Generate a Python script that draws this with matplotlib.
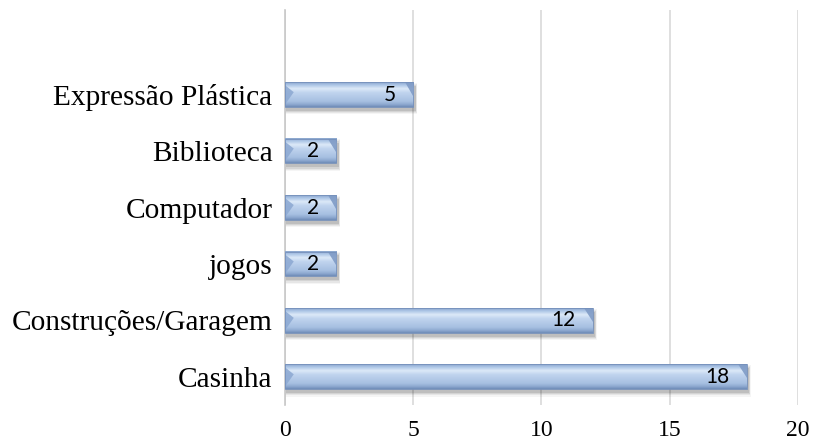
import numpy as np
import matplotlib
matplotlib.use("Agg")
import matplotlib.pyplot as plt
from matplotlib.patches import Polygon, Rectangle
from matplotlib.colors import to_rgb

# Activity categories (bottom to top) and counts
categories = ["Casinha", "Construções/Garagem", "jogos", "Computador",
              "Biblioteca", "Expressão Plástica"]
counts = [18, 12, 2, 2, 2, 5]
x_ticks = [0, 5, 10, 15, 20]

fig = plt.figure(figsize=(8.13, 4.45), dpi=100)
ax = fig.add_axes([0.3506, 0.0899, 0.6309, 0.8876])

bar_h = 0.44
positions = np.arange(len(categories))

# vertical gradient for the bevelled bar body (top -> bottom)
stops = [(0.00, "#8aa5cc"), (0.10, "#a9c3e4"), (0.26, "#dce9f8"),
         (0.42, "#c0d4ee"), (0.78, "#a6bfe1"), (0.90, "#8ea9d0"),
         (1.00, "#6f8cb8")]
n = 64
t = np.linspace(0, 1, n)
grad = np.zeros((n, 1, 3))
for c in range(3):
    xs = [s[0] for s in stops]
    ys = [to_rgb(s[1])[c] for s in stops]
    grad[:, 0, c] = np.interp(t, xs, ys)

bevel = 0.34  # horizontal size of the end facets in data units

for y, v in zip(positions, counts):
    y0, y1 = y - bar_h / 2, y + bar_h / 2
    # soft drop shadow
    for k, a in enumerate([0.10, 0.08, 0.06, 0.04]):
        grow = 0.02 * k
        ax.add_patch(Rectangle((0.05 - grow, y0 - 0.07 - grow), v + 0.05 + 2 * grow,
                               bar_h + 2 * grow, facecolor="#000000",
                               edgecolor="none", alpha=a, zorder=2))
    # body with gradient
    ax.imshow(grad, extent=[0, v, y0, y1], aspect="auto", origin="upper",
              interpolation="bilinear", zorder=3)
    # end facets
    ax.add_patch(Polygon([(0, y1 - 0.12 * bar_h), (bevel, y1 - 0.4 * bar_h),
                          (0, y0 + 0.1 * bar_h)], closed=True,
                         facecolor="#8eaad3", edgecolor="none", alpha=0.9, zorder=4))
    ax.add_patch(Polygon([(v - bevel, y1), (v, y1), (v, y1 - 0.55 * bar_h)],
                         closed=True, facecolor="#7f9bc6", edgecolor="none",
                         alpha=0.9, zorder=4))
    ax.add_patch(Rectangle((0, y0), v, bar_h, facecolor="none",
                           edgecolor="#7590bb", linewidth=0.6, zorder=5))
    ax.annotate(str(v), xy=(v, y), xytext=(-17, 0), textcoords="offset pixels",
                ha="right", va="center", fontsize=15, family="Lato",
                color="black", zorder=6)

ax.set_xlim(0, 20)
ax.set_ylim(-0.5, 6.5)
ax.set_xticks(x_ticks)
ax.set_xticklabels([str(v) for v in x_ticks], family="Liberation Serif",
                   fontsize=17)
ax.set_yticks(positions)
ax.set_yticklabels(categories, family="Liberation Serif", fontsize=21.2)
ax.tick_params(axis="x", length=0, pad=11)
ax.tick_params(axis="y", length=0, pad=9)
ax.xaxis.grid(True, color="#d9d9d9", linewidth=1.2)
ax.set_axisbelow(True)
for s in ["top", "right", "bottom"]:
    ax.spines[s].set_visible(False)
ax.spines["left"].set_color("#c8c8c8")
ax.spines["left"].set_linewidth(1.2)

fig.savefig("out.png", dpi=100)
